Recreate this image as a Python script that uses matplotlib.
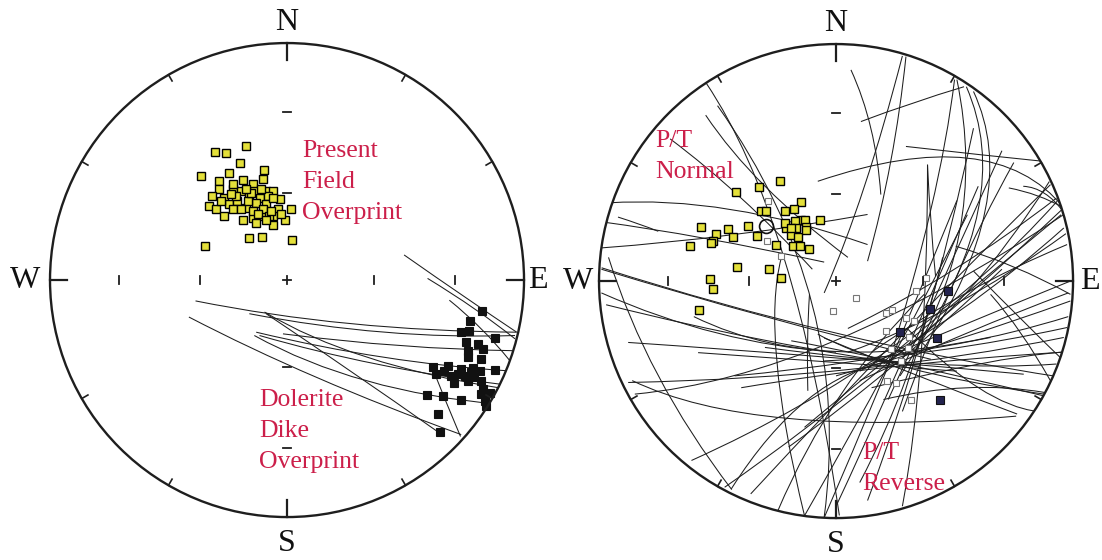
import numpy as np
import matplotlib
matplotlib.use("Agg")
import matplotlib.pyplot as plt
from matplotlib.path import Path
from matplotlib.patches import PathPatch, Circle

plt.rcParams['font.family'] = ['Liberation Serif', 'DejaVu Serif']

# all positions are equal-area net coordinates (primitive radius = 1), x = east, y = north

# left net: present field overprint directions
pf_x = [-0.173, -0.304, -0.258, -0.199, -0.365, -0.098, -0.244, -0.187, -0.287, -0.102,
        -0.145, -0.287, -0.230, -0.194, -0.138, -0.088, -0.060, -0.315, -0.265, -0.159,
        -0.116, -0.081, -0.329, -0.301, -0.244, -0.173, -0.130, -0.088, -0.038, 0.018,
        -0.265, -0.187, -0.145, -0.102, -0.060, -0.010, -0.060, -0.159, -0.105, 0.023,
        -0.346, -0.230, -0.209, -0.166, -0.102, -0.074, -0.145, -0.230, -0.279, -0.031,
        -0.060, -0.109, -0.152, -0.123, -0.088, -0.173, -0.216, -0.067, -0.024, -0.194,
        -0.237, -0.130]
pf_y = [0.567, 0.542, 0.535, 0.492, 0.437, 0.465, 0.451, 0.423, 0.418, 0.426,
        0.404, 0.383, 0.383, 0.376, 0.376, 0.376, 0.376, 0.355, 0.348, 0.355,
        0.348, 0.355, 0.312, 0.298, 0.319, 0.305, 0.326, 0.319, 0.298, 0.301,
        0.270, 0.252, 0.262, 0.270, 0.272, 0.252, 0.234, 0.177, 0.180, 0.170,
        0.142, 0.404, 0.333, 0.333, 0.298, 0.270, 0.291, 0.298, 0.333, 0.340,
        0.348, 0.383, 0.369, 0.277, 0.255, 0.383, 0.355, 0.291, 0.277, 0.298,
        0.362, 0.241]

# left net: dolerite dike overprint directions
dd_x = [0.824, 0.770, 0.767, 0.732, 0.877, 0.756, 0.806, 0.827, 0.763, 0.763,
        0.820, 0.614, 0.678, 0.735, 0.784, 0.813, 0.877, 0.628, 0.692, 0.749,
        0.791, 0.706, 0.763, 0.820, 0.827, 0.855, 0.820, 0.590, 0.657, 0.732,
        0.834, 0.841, 0.635, 0.647, 0.664, 0.721, 0.777]
dd_y = [-0.130, -0.173, -0.213, -0.220, -0.244, -0.262, -0.270, -0.291, -0.298, -0.326,
        -0.333, -0.366, -0.362, -0.376, -0.369, -0.383, -0.380, -0.397, -0.404, -0.404,
        -0.411, -0.433, -0.428, -0.426, -0.461, -0.475, -0.482, -0.485, -0.489, -0.504,
        -0.511, -0.532, -0.565, -0.643, -0.383, -0.397, -0.390]

# left net remagnetization arcs: start x, y / mid x, y / end x, y
dd_arcs = [
    (0.494, 0.106, 0.749, -0.071, 0.969, -0.220),
    (0.593, 0.007, 0.791, -0.121, 0.962, -0.248),
    (0.685, -0.085, 0.820, -0.206, 0.940, -0.340),
    (-0.386, -0.088, 0.267, -0.184, 0.969, -0.220),
    (-0.414, -0.156, 0.125, -0.411, 0.735, -0.652),
    (-0.159, -0.142, 0.409, -0.220, 0.962, -0.234),
    (-0.095, -0.135, 0.338, -0.326, 0.891, -0.454),
    (-0.130, -0.220, 0.409, -0.326, 0.933, -0.383),
    (-0.017, -0.227, 0.479, -0.277, 0.955, -0.298),
    (-0.138, -0.234, 0.338, -0.426, 0.905, -0.525),
    (-0.088, -0.142, 0.267, -0.383, 0.643, -0.645),
    (0.607, -0.355, 0.667, -0.504, 0.732, -0.660),
    (-0.116, -0.234, 0.380, -0.355, 0.905, -0.440),
]

# right net: P/T normal directions
ptn_x = [-0.238, -0.325, -0.421, -0.066, -0.147, -0.178, -0.217, -0.316, -0.147, -0.175,
         -0.133, -0.126, -0.168, -0.213, -0.189, -0.161, -0.372, -0.568, -0.456, -0.508,
         -0.435, -0.519, -0.332, -0.255, -0.182, -0.150, -0.116, -0.617, -0.529, -0.417,
         -0.283, -0.231, -0.533, -0.519, -0.579, -0.295, -0.126, -0.217, -0.189]
ptn_y = [0.424, 0.396, 0.374, 0.259, 0.334, 0.304, 0.297, 0.297, 0.259, 0.255,
         0.259, 0.227, 0.224, 0.224, 0.196, 0.185, 0.234, 0.227, 0.220, 0.199,
         0.185, 0.168, 0.189, 0.154, 0.147, 0.147, 0.136, 0.147, 0.161, 0.059,
         0.052, 0.014, 0.007, -0.035, -0.123, 0.297, 0.217, 0.245, 0.224]

# right net: small open squares
pto_x = [-0.288, -0.290, -0.231, 0.084, -0.014, 0.210, 0.238, 0.337, 0.379, 0.210,
         0.295, 0.330, 0.309, 0.217, 0.252, 0.316, 0.231, 0.273, 0.302]
pto_y = [0.337, 0.168, 0.105, -0.070, -0.126, -0.133, -0.123, -0.042, 0.014, -0.210,
         -0.154, -0.168, -0.238, -0.421, -0.428, -0.502, -0.288, -0.337, -0.281]

# right net: P/T reverse directions
ptr_x = [0.473, 0.397, 0.271, 0.428, 0.439]
ptr_y = [-0.042, -0.119, -0.213, -0.241, -0.502]

# right net: normal mean
ptn_mean = (-0.295, 0.231)

# right net remagnetization arcs: start x, y / mid x, y / end x, y
pt_arcs = [
    (-0.961, 0.330, -0.442, 0.302, 0.133, 0.154),
    (-0.990, 0.250, -0.550, 0.180, -0.050, 0.080),
    (-0.920, 0.270, -0.830, 0.240, -0.750, 0.210),
    (-0.989, 0.140, -0.428, 0.196, 0.133, 0.281),
    (-0.077, 0.421, 0.554, 0.519, 0.961, 0.309),
    (0.295, 0.568, 0.610, 0.533, 0.877, 0.505),
    (0.105, 0.673, 0.320, 0.750, 0.540, 0.820),
    (0.063, 0.891, 0.147, 0.645, 0.189, 0.365),
    (0.295, 0.947, 0.231, 0.505, 0.133, 0.084),
    (0.550, 0.820, 0.600, 0.300, 0.330, -0.300),
    (0.580, 0.800, 0.630, 0.300, 0.360, -0.300),
    (0.510, 0.850, 0.520, 0.200, 0.270, -0.400),
    (0.500, 0.850, 0.400, 0.300, 0.220, -0.350),
    (0.386, 0.491, 0.400, 0.250, 0.420, 0.020),
    (-0.133, -0.990, 0.231, -0.337, 0.554, 0.280),
    (-0.049, -0.996, 0.200, -0.410, 0.510, 0.340),
    (0.133, -0.926, 0.372, -0.196, 0.580, 0.645),
    (-0.245, -0.968, 0.021, -0.477, 0.372, -0.056),
    (-0.442, -0.877, -0.120, -0.500, 0.230, -0.340),
    (-0.231, 0.098, -0.250, -0.340, -0.133, -0.990),
    (-0.112, -0.056, -0.120, -0.250, -0.119, -0.463),
    (-0.547, 0.834, -0.220, 0.100, 0.014, -0.989),
    (-0.500, 0.740, -0.100, -0.100, -0.050, -0.996),
    (-0.989, 0.056, 0.000, -0.220, 0.961, -0.407),
    (-0.877, -0.259, -0.050, -0.320, 0.792, -0.393),
    (-0.877, -0.428, 0.090, -0.370, 0.961, -0.238),
    (-0.849, -0.477, 0.000, -0.250, 0.961, 0.281),
    (-0.860, -0.420, -0.200, -0.580, 0.760, -0.570),
    (-0.582, -0.302, -0.050, -0.340, 0.510, -0.380),
    (-0.428, -0.400, 0.090, -0.337, 0.652, -0.238),
    (-0.189, -0.252, 0.231, -0.337, 0.905, -0.491),
    (-0.077, -0.224, 0.300, -0.365, 0.877, -0.477),
    (-0.050, -0.240, 0.370, -0.410, 0.764, -0.561),
    (0.150, -0.300, 0.550, -0.050, 0.975, 0.154),
    (0.100, -0.380, 0.530, -0.120, 0.961, 0.224),
    (0.120, -0.360, 0.550, -0.180, 0.989, 0.000),
    (0.000, -0.400, 0.500, -0.250, 0.989, -0.084),
    (-0.050, -0.337, 0.450, -0.290, 0.975, -0.196),
    (0.505, 0.147, 0.750, 0.060, 0.989, -0.056),
    (0.580, 0.042, 0.780, -0.160, 0.961, -0.337),
    (0.652, -0.056, 0.780, -0.220, 0.905, -0.421),
    (0.961, 0.309, 0.231, -0.337, -0.470, -0.870),
    (0.933, 0.337, 0.250, -0.270, -0.610, -0.757),
    (0.905, 0.407, 0.300, -0.200, -0.360, -0.898),
    (0.950, 0.280, 0.370, -0.200, -0.133, -0.617),
    (0.386, 0.491, 0.360, -0.300, 0.280, -0.950),
    (0.729, 0.393, 0.850, 0.360, 0.961, 0.309),
    (0.790, 0.400, 0.880, 0.370, 0.961, 0.290),
    (0.280, 0.950, 0.120, 0.400, -0.050, -0.050),
    (-0.960, 0.100, -0.750, -0.400, -0.440, -0.880),
    (-0.990, 0.050, -0.300, -0.150, 0.400, -0.330),
    (-0.970, -0.100, -0.300, -0.250, 0.350, -0.360),
    (-0.600, -0.150, 0.100, -0.300, 0.980, -0.150),
    (-0.400, -0.450, 0.250, -0.360, 0.960, -0.300),
    (-0.300, -0.280, 0.400, -0.350, 0.930, -0.350),
    (0.050, -0.300, 0.500, -0.100, 0.970, 0.200),
    (0.100, -0.420, 0.550, -0.220, 0.980, -0.050),
    (0.150, -0.450, 0.600, -0.350, 0.950, -0.300),
    (0.200, -0.500, 0.550, -0.450, 0.880, -0.470),
    (0.050, -0.200, 0.500, 0.050, 0.930, 0.350),
    (0.200, -0.350, 0.550, -0.050, 0.900, 0.420),
    (-0.200, -0.700, 0.250, -0.350, 0.700, 0.050),
    (0.100, -0.850, 0.300, -0.400, 0.450, 0.100),
    (0.000, -0.950, 0.250, -0.400, 0.600, 0.400),
    (0.700, 0.550, 0.450, 0.000, 0.220, -0.500),
    (0.750, 0.500, 0.500, 0.000, 0.280, -0.550),
    (-0.990, -0.050, -0.500, -0.220, 0.000, -0.300),
    (0.300, -0.200, 0.600, -0.450, 0.850, -0.550),
    (-0.700, 0.600, -0.400, 0.350, -0.100, 0.050),
    (-0.550, 0.700, -0.300, 0.400, 0.050, 0.100),
]

LINE = '#1e1e1e'
RED = '#cc1f4a'
YELLOW = '#e4e03a'


def equal_area_r(inc):
    return np.sqrt(2) * np.sin(np.radians((90 - inc) / 2))


def draw_net(ax):
    ax.set_xlim(-1.15, 1.15)
    ax.set_ylim(-1.15, 1.15)
    ax.set_aspect('equal')
    ax.axis('off')
    rim = Circle((0, 0), 1.0, fill=False, lw=1.7, color=LINE, zorder=5)
    ax.add_patch(rim)
    # rim ticks every 30 degrees, cardinal ones longer
    for az in range(0, 360, 30):
        a = np.radians(az)
        r0 = 0.93 if az % 90 == 0 else 0.97
        ax.plot([r0 * np.sin(a), np.sin(a)], [r0 * np.cos(a), np.cos(a)],
                color=LINE, lw=1.6 if az % 90 == 0 else 1.2, zorder=5)
    # inclination ticks at 30 and 60 degrees along the axes
    t = 0.016
    for inc in (30, 60):
        r = equal_area_r(inc)
        for s in (-1, 1):
            ax.plot([s * r, s * r], [-t, t], color=LINE, lw=1.3, zorder=5)
            ax.plot([-t, t], [s * r, s * r], color=LINE, lw=1.3, zorder=5)
    ax.plot([-t, t], [0, 0], color=LINE, lw=1.3, zorder=5)
    ax.plot([0, 0], [-t, t], color=LINE, lw=1.3, zorder=5)
    lab = dict(fontsize=23, ha='center', va='center', color='#111111')
    ax.text(0, 1.085, 'N', **lab)
    ax.text(0, -1.11, 'S', **lab)
    return rim


def draw_arcs(ax, arcs, rim):
    for x0, y0, xm, ym, x1, y1 in arcs:
        cx = 2 * xm - (x0 + x1) / 2
        cy = 2 * ym - (y0 + y1) / 2
        p = Path([(x0, y0), (cx, cy), (x1, y1)],
                 [Path.MOVETO, Path.CURVE3, Path.CURVE3])
        patch = PathPatch(p, fill=False, lw=0.75, edgecolor=LINE, zorder=2)
        ax.add_patch(patch)
        patch.set_clip_path(rim)


fig = plt.figure(figsize=(11.02, 5.6), dpi=100)
ax1 = fig.add_axes([0.0131, 0.0132, 0.4947, 0.9734])
ax2 = fig.add_axes([0.5113, 0.0114, 0.4947, 0.9734])

# ---- left net
rim1 = draw_net(ax1)
ax1.text(1.06, 0, 'E', fontsize=23, ha='center', va='center', color='#111111')
ax1.text(-1.105, 0, 'W', fontsize=23, ha='center', va='center', color='#111111')
draw_arcs(ax1, dd_arcs, rim1)
ax1.plot(pf_x, pf_y, 's', ms=5.8, mfc=YELLOW, mec='black', mew=1.0, zorder=4)
ax1.plot(dd_x, dd_y, 's', ms=5.8, mfc='#111111', mec='#111111', mew=0.8, zorder=4)
ax1.text(0.063, 0.59, 'Present\nField\nOverprint', fontsize=18.5, color=RED,
         ha='left', va='top', linespacing=1.52)
ax1.text(-0.118, -0.46, 'Dolerite\nDike\nOverprint', fontsize=18.5, color=RED,
         ha='left', va='top', linespacing=1.52)

# ---- right net
rim2 = draw_net(ax2)
ax2.text(1.072, 0, 'E', fontsize=23, ha='center', va='center', color='#111111')
ax2.text(-1.089, 0, 'W', fontsize=23, ha='center', va='center', color='#111111')
draw_arcs(ax2, pt_arcs, rim2)
ax2.plot(pto_x, pto_y, 's', ms=3.8, mfc='white', mec='#777777', mew=0.8, zorder=3)
ax2.plot(ptn_x, ptn_y, 's', ms=5.8, mfc=YELLOW, mec='black', mew=1.0, zorder=4)
ax2.plot(ptr_x, ptr_y, 's', ms=5.6, mfc='#23234f', mec='#111111', mew=0.8, zorder=4)
ax2.plot([ptn_mean[0]], [ptn_mean[1]], 'o', ms=10, mfc='none', mec='#111111', mew=1.2, zorder=4)
ax2.text(-0.764, 0.636, 'P/T\nNormal', fontsize=18.5, color=RED,
         ha='left', va='top', linespacing=1.52)
ax2.text(0.11, -0.68, 'P/T\nReverse', fontsize=18.5, color=RED,
         ha='left', va='top', linespacing=1.52)

fig.savefig('out.png', dpi=100, facecolor='white')
